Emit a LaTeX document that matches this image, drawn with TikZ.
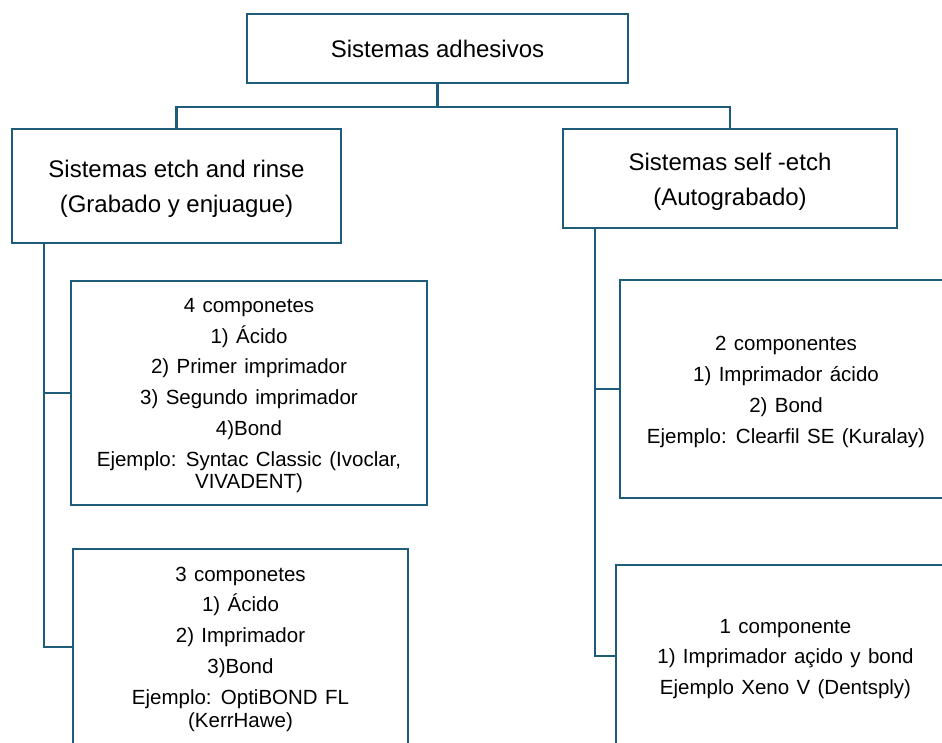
\documentclass[tikz,border=0pt]{standalone}
\usepackage{fontspec}
\setmainfont{Liberation Sans}
\definecolor{linec}{RGB}{31,92,122}
\newcommand\mybodyfont{\fontsize{20.5}{30.8}\selectfont\spaceskip=0.36em\relax}
\newcommand\dn[1]{\rule{0pt}{#1}}
\tikzset{
  box/.style={draw=linec, line width=2.2pt, inner sep=0pt, align=center, text=black},
  headbox/.style={box, font=\fontsize{24}{35}\selectfont},
  bodybox/.style={box, font=\mybodyfont},
  conn/.style={draw=linec, line width=2.2pt}
}
\begin{document}
\begin{tikzpicture}[x=1pt,y=-1pt]
\useasboundingbox (0,0) rectangle (942,742);
\clip (0,0) rectangle (942,742);
\fill[white] (0,0) rectangle (942,742);

\node[headbox, minimum width=381pt, minimum height=69pt] (top) at (437.5,48.5) {Sistemas adhesivos};
\node[headbox, minimum width=329pt, minimum height=114pt] (lh) at (176.5,186) {\dn{23pt}Sistemas etch and rinse\\(Grabado y enjuague)};
\node[headbox, minimum width=334pt, minimum height=99pt] (rh) at (730,178.5) {\dn{23pt}Sistemas self -etch\\(Autograbado)};

\node[bodybox, minimum width=356pt, minimum height=224pt] (b1) at (249,393) {\dn{19pt}4 componetes\\1) Ácido\\2) Primer imprimador\\3) Segundo imprimador\\4)Bond\\Ejemplo: Syntac Classic (Ivoclar,\\[-8.8pt]VIVADENT)};
\node[bodybox, minimum width=335pt, minimum height=196pt] (b2) at (240.5,647) {\dn{19pt}3 componetes\\1) Ácido\\2) Imprimador\\3)Bond\\Ejemplo: OptiBOND FL\\[-7.5pt](KerrHawe)};
\node[bodybox, minimum width=332pt, minimum height=218pt] (b3) at (786,389) {\dn{20pt}2 componentes\\1) Imprimador ácido\\2) Bond\\Ejemplo: Clearfil SE (Kuralay)};
\node[bodybox, minimum width=339pt, minimum height=182pt] (b4) at (785.5,656) {\dn{20pt}1 componente\\1) Imprimador açido y bond\\Ejemplo Xeno V (Dentsply)};

\coordinate (j) at (437.5,107);
\draw[conn] (top.south) -- (j);
\draw[conn] (lh.north) |- (j) -| (rh.north);

\draw[conn] ([xshift=33pt]lh.south west) |- (b1.west);
\draw[conn] ([xshift=33pt]lh.south west) |- (b2.west);
\draw[conn] ([xshift=33pt]rh.south west) |- (b3.west);
\draw[conn] ([xshift=33pt]rh.south west) |- (b4.west);
\end{tikzpicture}
\end{document}
